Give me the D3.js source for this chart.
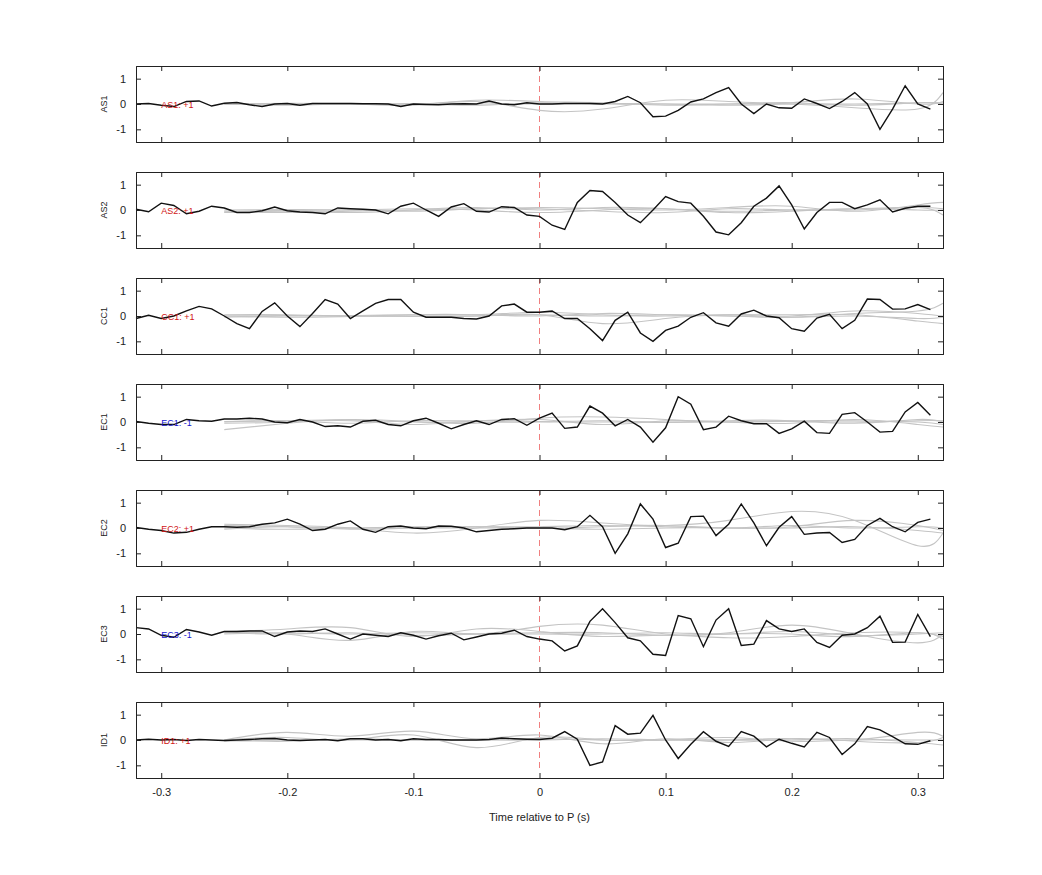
<!DOCTYPE html>
<html>
<head>
<meta charset="utf-8">
<script src="https://cdn.jsdelivr.net/npm/d3@7"></script>
<style>
body { margin: 0; background: #fff; font-family: "Liberation Sans", Arial, sans-serif; }
</style>
</head>
<body>
<div class="chart"></div>
<script>
// sample times of the black traces
const times = d3.range(64).map(i => Math.round((i - 32)) / 100);
const channels = ["AS1", "AS2", "CC1", "EC1", "EC2", "EC3", "ID1"];
const polarity = ["+1", "+1", "+1", "-1", "+1", "-1", "+1"];
const xTicks = [-0.3, -0.2, -0.1, 0, 0.1, 0.2, 0.3];
const yTicks = [-1, 0, 1];

const traces = [
  [0.0,0.02,-0.05,-0.1,0.1,0.12,-0.08,0.03,0.06,-0.03,-0.1,0.0,0.02,-0.05,0.02,0.02,0.02,0.02,0.01,0.01,0.0,-0.1,0.0,-0.02,-0.03,0.0,0.01,0.0,0.12,0.0,-0.03,0.05,
   0.0,0.0,0.02,0.02,0.02,0.0,0.1,0.3,0.05,-0.5,-0.48,-0.25,0.08,0.2,0.45,0.65,0.0,-0.38,0.0,-0.15,-0.17,0.2,0.02,-0.18,0.1,0.45,0.0,-1.0,-0.2,0.72,0.0,-0.2],
  [0.03,-0.07,0.27,0.18,-0.15,-0.05,0.15,0.08,-0.1,-0.1,-0.03,0.12,-0.03,-0.08,-0.1,-0.15,0.08,0.05,0.03,0.0,-0.15,0.15,0.27,0.0,-0.25,0.12,0.25,-0.05,-0.08,0.13,0.1,-0.2,
   -0.25,-0.6,-0.77,0.3,0.77,0.73,0.3,-0.2,-0.5,0.0,0.53,0.33,0.27,-0.25,-0.87,-0.98,-0.5,0.15,0.47,0.95,0.2,-0.75,-0.1,0.3,0.3,0.05,0.2,0.4,-0.08,0.07,0.15,0.15],
  [-0.1,0.03,-0.1,0.0,0.2,0.38,0.28,0.0,-0.3,-0.5,0.18,0.52,0.0,-0.42,0.1,0.65,0.47,-0.1,0.2,0.5,0.65,0.65,0.15,-0.05,-0.05,-0.05,-0.1,-0.12,0.0,0.4,0.47,0.15,
   0.15,0.2,-0.1,-0.1,-0.5,-0.97,-0.17,0.15,-0.67,-1.0,-0.57,-0.4,-0.05,0.13,-0.27,-0.4,0.08,0.23,0.0,-0.07,-0.5,-0.6,-0.08,0.07,-0.5,-0.17,0.67,0.65,0.27,0.28,0.45,0.25],
  [0.02,-0.05,-0.1,-0.1,0.1,0.05,0.03,0.12,0.12,0.15,0.12,0.0,-0.03,0.1,0.0,-0.18,-0.15,-0.2,0.03,0.07,-0.1,-0.15,0.05,0.15,-0.05,-0.27,-0.1,0.05,-0.1,0.1,0.13,-0.13,
   0.15,0.35,-0.25,-0.2,0.63,0.35,-0.15,0.1,-0.2,-0.8,-0.23,1.0,0.7,-0.3,-0.2,0.23,0.05,-0.07,-0.07,-0.45,-0.27,0.03,-0.42,-0.45,0.3,0.37,0.0,-0.4,-0.37,0.4,0.77,0.27],
  [0.02,-0.05,-0.1,-0.2,-0.17,-0.05,0.05,0.05,0.03,0.05,0.15,0.2,0.35,0.15,-0.1,-0.05,0.15,0.28,-0.05,-0.17,0.05,0.08,0.0,-0.03,0.08,0.07,0.0,-0.15,-0.1,-0.05,-0.03,0.0,
   0.0,0.0,-0.07,0.05,0.5,0.05,-1.0,-0.23,0.95,0.35,-0.77,-0.6,0.45,0.47,-0.3,0.15,0.95,0.2,-0.7,0.03,0.45,-0.25,-0.2,-0.18,-0.57,-0.45,0.1,0.38,0.05,-0.15,0.22,0.35],
  [0.25,0.2,-0.05,-0.13,0.18,0.08,-0.05,0.1,0.1,0.12,0.12,-0.1,0.08,0.12,0.1,0.2,0.0,-0.2,0.0,-0.05,-0.1,0.05,-0.05,-0.2,-0.07,0.03,-0.23,-0.12,0.0,0.03,0.15,-0.1,
   -0.2,-0.27,-0.67,-0.47,0.5,1.0,0.45,-0.15,-0.27,-0.8,-0.85,0.73,0.6,-0.5,0.55,1.0,-0.45,-0.4,0.53,0.2,0.1,0.2,-0.33,-0.53,-0.05,0.0,0.25,0.7,-0.33,-0.32,0.77,-0.1],
  [0.0,0.03,0.0,0.02,-0.02,0.02,0.0,-0.02,0.0,0.02,0.05,0.06,0.0,-0.02,0.0,0.02,-0.03,0.05,0.05,0.0,0.02,-0.03,0.05,0.02,0.02,0.0,0.0,0.0,0.02,0.08,0.05,0.03,
   0.02,0.07,0.33,0.03,-1.0,-0.87,0.57,0.23,0.27,0.97,0.0,-0.73,-0.17,0.33,-0.05,-0.25,0.33,0.15,-0.27,0.03,-0.13,-0.27,0.3,0.1,-0.57,-0.15,0.53,0.4,0.13,-0.15,-0.17,-0.03]
];

// faint comparison traces: control values at these times
const greyTimes = [-0.25,-0.2,-0.15,-0.1,-0.05,0,0.05,0.1,0.15,0.2,0.25,0.3,0.32];
const greyTraces = [
  [[0,0.03,0,-0.02,0.15,0.1,0.05,-0.05,0,0.05,0.2,0,0.1],[0.02,-0.05,0,-0.05,0.1,-0.25,-0.2,0.15,0.1,0,-0.15,-0.2,0.45],[-0.02,0,0.02,0,0,0,0.02,0,-0.05,0,0,0.05,0.05],[0,0.02,-0.02,0.02,-0.05,0.05,0,0,0,0.05,-0.05,0.05,0]],
  [[-0.08,-0.1,-0.05,0,0.05,0.1,0.05,0,0.1,0.15,-0.05,0.2,0.3],[-0.05,-0.02,0,0.05,0,-0.1,0,0.05,-0.05,0,0,0.1,-0.2],[0,0.02,0,-0.05,0.05,0.05,-0.05,-0.1,0.05,0,0.05,0.1,0.05],[-0.1,-0.05,-0.1,0,0.1,0,0.1,0.05,-0.1,-0.05,0.05,0,0]],
  [[0.05,0.05,0,0.05,0.05,0,0.1,0.05,0,-0.05,0.1,0.2,0.5],[0,-0.05,-0.02,0,0,0.05,-0.3,-0.1,0.05,0.05,0.05,-0.2,-0.3],[-0.05,0,0.02,0.05,0.05,0.15,0.05,0,0.05,0,0.2,0.1,0],[0,0.02,0,-0.02,0,0.05,0,0.05,0,-0.05,0,-0.1,-0.05]],
  [[-0.3,-0.05,0.1,0.02,-0.05,0.15,0.2,0.1,0,0.05,0.05,0,-0.1],[0,0.05,-0.05,0.05,0.05,0.1,-0.1,0.05,0,-0.05,0.1,-0.1,-0.2],[0.02,0.05,0.08,0,0,0,0.05,-0.02,0.05,0.05,-0.05,0.1,0],[-0.05,0,0.05,-0.1,0.05,0.02,0,0,0,0.02,0,0.05,0.05]],
  [[0.15,0.1,0,-0.2,0,0.3,0.2,0.1,0.3,0.65,0.3,-0.7,-0.2],[0.1,0.05,0,0.05,0.05,0.05,0.1,0.05,0,0.05,0.3,0.1,-0.1],[-0.05,0.05,-0.05,0,0,0,-0.05,0,0,0,0.05,-0.1,-0.2],[0,-0.05,0,0,0.05,0,0.05,0.1,0,0.1,0,0.05,0]],
  [[0.05,0,-0.25,0.1,0,0.3,0.35,0,0.05,0.35,0,-0.35,0],[0.1,0.2,0.25,-0.1,0.2,0.1,-0.1,-0.05,-0.15,-0.1,0.05,0.05,-0.1],[0,0.05,0,0.05,0,0,0,0.05,0,0.1,-0.05,0,0.05],[0.05,0,0.05,-0.05,0,0.05,0.05,-0.05,0,0,-0.1,0.05,-0.2]],
  [[0,0.1,0,0.2,-0.3,0.1,0,0,0,0.05,0,0.3,0.15],[0,0.3,0.15,0.35,0.05,0.2,-0.15,0.05,-0.1,0.05,-0.05,-0.1,0.1],[-0.05,0,0,0,0,0,0.05,0,0,0,0.05,-0.1,-0.2],[0,-0.05,0.05,0,0,0.05,0,0,0.1,-0.05,0,0,0]]
];

const width = 1042, height = 875;
const left = 136, right = 943, panelTop = 66, panelH = 76, step = 106;
const fmt = d => String(d);

const svg = d3.select(".chart").append("svg")
  .attr("width", width).attr("height", height)
  .style("font-family", "Liberation Sans, Arial, sans-serif");

const x = d3.scaleLinear().domain([-0.32, 0.32]).range([left, right]);

channels.forEach((ch, i) => {
  const top = panelTop + i * step;
  const y = d3.scaleLinear().domain([-1.5, 1.5]).range([top + panelH, top]);
  const g = svg.append("g");

  // dashed line at 0
  g.append("line")
    .attr("x1", x(0)).attr("x2", x(0))
    .attr("y1", y(1.5)).attr("y2", y(-1.2))
    .attr("stroke", "#f08080").attr("stroke-width", 1)
    .attr("stroke-dasharray", "6,4");

  const gl = d3.line().x(d => x(d[0])).y(d => y(d[1])).curve(d3.curveNatural);
  greyTraces[i].forEach(vals => {
    g.append("path")
      .datum(greyTimes.map((t, k) => [t, vals[k]]))
      .attr("d", gl).attr("fill", "none")
      .attr("stroke", "#c4c4c4").attr("stroke-width", 1.1);
  });

  const bl = d3.line().x((d, k) => x(times[k])).y(d => y(d));
  g.append("path").datum(traces[i])
    .attr("d", bl).attr("fill", "none")
    .attr("stroke", "#111").attr("stroke-width", 1.4);

  g.append("text")
    .attr("x", x(-0.3)).attr("y", y(0) + 4)
    .attr("font-size", 9)
    .attr("fill", polarity[i] === "-1" ? "#1515d0" : "#d01515")
    .text(`${ch}: ${polarity[i]}`);

  // axes box with inward ticks
  const ax = [
    [d3.axisBottom(x).tickValues(xTicks).tickSize(-5).tickFormat(fmt), top + panelH],
    [d3.axisTop(x).tickValues(xTicks).tickSize(-5).tickFormat(""), top]
  ];
  ax.forEach(([a, ty]) => {
    const ag = g.append("g").attr("transform", `translate(0,${ty})`).call(a.tickPadding(10));
    if (i !== channels.length - 1 || ty === top) ag.selectAll("text").remove();
  });
  g.append("g").attr("transform", `translate(${left},0)`)
    .call(d3.axisLeft(y).tickValues(yTicks).tickSize(-5).tickPadding(10).tickFormat(fmt));
  g.append("g").attr("transform", `translate(${right},0)`)
    .call(d3.axisRight(y).tickValues(yTicks).tickSize(-5).tickFormat(""));

  g.append("text")
    .attr("transform", `translate(${107},${y(0)}) rotate(-90)`)
    .attr("text-anchor", "middle").attr("font-size", 9).attr("fill", "#222")
    .text(ch);
});

svg.selectAll(".domain").attr("stroke", "#222").attr("stroke-width", 1);
svg.selectAll(".tick line").attr("stroke", "#222");
svg.selectAll(".tick text").attr("font-size", 11).attr("fill", "#222")
  .attr("font-family", "Liberation Sans, Arial, sans-serif");

svg.append("text")
  .attr("x", x(0)).attr("y", 821)
  .attr("text-anchor", "middle").attr("font-size", 11).attr("fill", "#222")
  .text("Time relative to P (s)");
</script>
</body>
</html>
